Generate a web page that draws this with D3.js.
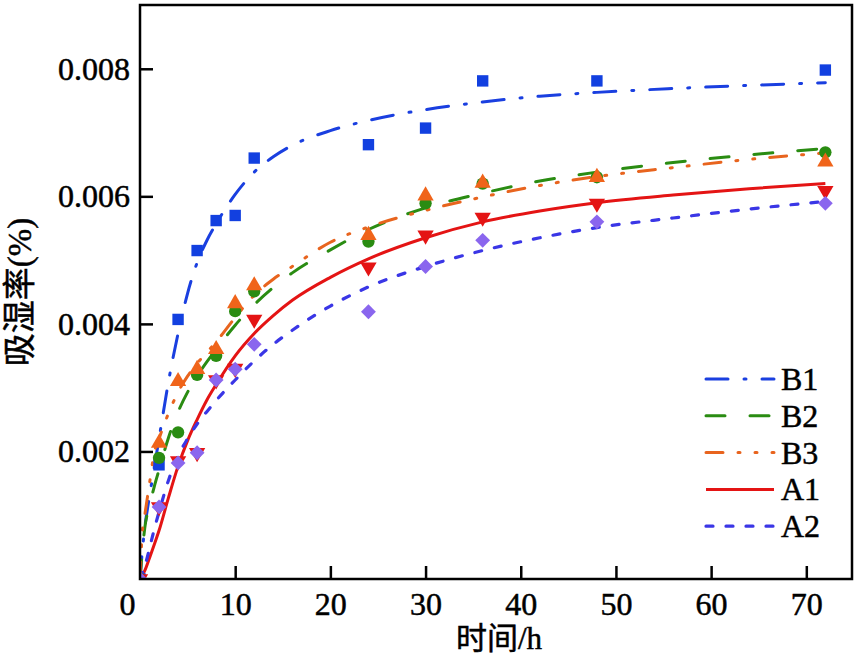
<!DOCTYPE html>
<html>
<head>
<meta charset="utf-8">
<script src="https://cdn.jsdelivr.net/npm/d3@7"></script>
<style>
  html, body { margin: 0; padding: 0; background: #fff; }
  svg { display: block; }
  .tick text { font-family: "Liberation Serif", "Times New Roman", serif; font-size: 32px; fill: #000; stroke: #000; stroke-width: 0.5px; }
  .lbl { fill: #000; stroke: #000; stroke-width: 0.5px; }
</style>
</head>
<body>
<svg id="chart" width="856" height="656"></svg>
<script>
// ---------- data ----------
const times = [0, 2, 4, 6, 8, 10, 12, 24, 30, 36, 48, 72];
const B1 = [0, 0.00179, 0.00407, 0.00515, 0.00562, 0.00570, 0.00660, 0.00681, 0.00707, 0.00781, 0.00781, 0.00798];
const B2 = [0, 0.00190, 0.00230, 0.00320, 0.00350, 0.00420, 0.00451, 0.00529, 0.00589, 0.00620, 0.00630, 0.00669];
const B3 = [0, 0.00213, 0.00310, 0.00329, 0.00360, 0.00432, 0.00460, 0.00539, 0.00601, 0.00621, 0.00630, 0.00654];
const A1 = [0, 0.00113, 0.00185, 0.00198, 0.00312, 0.00330, 0.00407, 0.00489, 0.00539, 0.00567, 0.00589, 0.00609];
const A2 = [0, 0.00113, 0.00182, 0.00198, 0.00312, 0.00329, 0.00368, 0.00419, 0.00490, 0.00531, 0.00560, 0.00589];

// fitted curves
const fitT = [0, 0.25, 0.5, 1, 1.5, 2, 3, 4, 5, 6, 7, 8, 10, 12, 14, 16, 20, 24, 30, 36, 42, 48, 56, 64, 72];
const fitB1 = [0, 0.00045, 0.0008, 0.0013, 0.00175, 0.0022, 0.0031, 0.00385, 0.00448, 0.00496, 0.0053, 0.00557, 0.00603, 0.00638, 0.00662, 0.0068, 0.00703, 0.00719, 0.00736, 0.00748, 0.00757, 0.00763, 0.00769, 0.00774, 0.00778];
const fitB2 = [0, 0.00045, 0.0008, 0.00115, 0.00145, 0.00171, 0.00222, 0.00262, 0.00293, 0.00318, 0.0034, 0.0036, 0.00398, 0.0043, 0.00457, 0.0048, 0.00516, 0.00548, 0.00582, 0.00605, 0.00624, 0.00638, 0.00653, 0.00665, 0.00675];
const fitB3 = [0, 0.00075, 0.001, 0.0015, 0.00198, 0.0022, 0.0026, 0.00293, 0.00318, 0.00338, 0.00355, 0.00372, 0.0041, 0.00445, 0.0047, 0.0049, 0.00528, 0.00552, 0.00578, 0.00599, 0.00617, 0.00631, 0.00645, 0.00658, 0.00668];
const fitA1 = [0, 0.00006, 0.00013, 0.00033, 0.00054, 0.00076, 0.00128, 0.00177, 0.00217, 0.0025, 0.0028, 0.00305, 0.0035, 0.00385, 0.00413, 0.00437, 0.00473, 0.00502, 0.00535, 0.0056, 0.00577, 0.0059, 0.00602, 0.00612, 0.0062];
const fitA2 = [0, 0.0001, 0.0002, 0.00048, 0.00078, 0.00105, 0.00155, 0.00193, 0.0022, 0.00243, 0.00262, 0.0028, 0.00312, 0.00342, 0.00368, 0.0039, 0.00428, 0.00458, 0.0049, 0.00515, 0.00535, 0.00551, 0.00566, 0.0058, 0.00592];

const seriesNames = ["B1", "B2", "B3", "A1", "A2"];
const xTicks = [0, 10, 20, 30, 40, 50, 60, 70];
const yTicks = [0.002, 0.004, 0.006, 0.008];
const xTitle = "时间/h";
const yTitle = "吸湿率(%)";

// ---------- marker shapes ----------
const downTri = {
  draw(ctx, size) {
    const s = Math.sqrt(size / (Math.sqrt(3) / 4));
    const h = s * Math.sqrt(3) / 2;
    ctx.moveTo(-s / 2, -h / 3);
    ctx.lineTo(s / 2, -h / 3);
    ctx.lineTo(0, 2 * h / 3);
    ctx.closePath();
  }
};
const squareDiamond = {
  draw(ctx, size) {
    const r = Math.sqrt(size / 2);
    ctx.moveTo(0, -r);
    ctx.lineTo(r, 0);
    ctx.lineTo(0, r);
    ctx.lineTo(-r, 0);
    ctx.closePath();
  }
};

// ---------- styles ----------
const styles = {
  B1: { line: "#1a3fe0", marker: "#1240e0", dash: "22,16,2,16", shape: d3.symbolSquare, size: 130, width: 3 },
  B2: { line: "#2a8c12", marker: "#2a8c12", dash: "19,25", shape: d3.symbolCircle, size: 120, width: 3 },
  B3: { line: "#e8641e", marker: "#f0641a", dash: "17,15,2,15,2,15", shape: d3.symbolTriangle, size: 115, width: 3 },
  A1: { line: "#e41414", marker: "#e41414", dash: null, shape: downTri, size: 115, width: 3 },
  A2: { line: "#3a36e6", marker: "#8a66ee", dash: "7,13", shape: squareDiamond, size: 110, width: 3.2 }
};

const pointData = { B1, B2, B3, A1, A2 };
const fitData = { B1: fitB1, B2: fitB2, B3: fitB3, A1: fitA1, A2: fitA2 };

// ---------- layout ----------
const pLeft = 140, pRight = 852, pTop = 5, pBottom = 579;
const svg = d3.select("#chart");
const x = d3.scaleLinear().domain([0, 74.8]).range([pLeft, pRight]);
const y = d3.scaleLinear().domain([0, 0.009]).range([pBottom, pTop]);

svg.append("defs").append("clipPath").attr("id", "clip")
  .append("rect").attr("x", pLeft).attr("y", pTop).attr("width", pRight - pLeft).attr("height", pBottom - pTop);

const plot = svg.append("g").attr("clip-path", "url(#clip)");

const line = d3.line().x(d => x(d[0])).y(d => y(d[1])).curve(d3.curveMonotoneX);

// fitted lines
seriesNames.forEach(name => {
  const st = styles[name];
  plot.append("path")
    .datum(fitT.map((t, i) => [t, fitData[name][i]]))
    .attr("d", line)
    .attr("fill", "none")
    .attr("stroke", st.line)
    .attr("stroke-width", st.width)
    .attr("stroke-linecap", st.dash ? "round" : "butt")
    .attr("stroke-dasharray", st.dash);
});

// markers
seriesNames.forEach(name => {
  const st = styles[name];
  const sym = d3.symbol().type(st.shape).size(st.size);
  plot.append("g").selectAll("path")
    .data(times.map((t, i) => [t, pointData[name][i]]))
    .join("path")
    .attr("transform", d => `translate(${x(d[0])},${y(d[1])})`)
    .attr("d", sym)
    .attr("fill", st.marker);
});

// axes
const xAxis = d3.axisBottom(x).tickValues(xTicks).tickSize(-13).tickPadding(13).tickFormat(d3.format("d"));
const gx = svg.append("g").attr("transform", `translate(0,${pBottom})`).call(xAxis);
gx.select(".domain").remove();
gx.selectAll(".tick line").attr("stroke", "#000").attr("stroke-width", 2.5);
gx.selectAll(".tick").filter(d => d === 0).select("line").remove();
gx.selectAll(".tick").filter(d => d === 0).select("text").attr("x", -13);

const yAxis = d3.axisLeft(y).tickValues(yTicks).tickSize(-13).tickPadding(10).tickFormat(d3.format(".3f"));
const gy = svg.append("g").attr("transform", `translate(${pLeft},0)`).call(yAxis);
gy.select(".domain").remove();
gy.selectAll(".tick line").attr("stroke", "#000").attr("stroke-width", 2.5);

// frame
svg.append("rect").attr("x", pLeft).attr("y", pTop).attr("width", pRight - pLeft).attr("height", pBottom - pTop)
  .attr("fill", "none").attr("stroke", "#000").attr("stroke-width", 2.5);

// titles
svg.append("text").attr("class", "lbl").attr("x", 499).attr("y", 649).attr("text-anchor", "middle")
  .style("font-family", "'Liberation Serif', 'Noto Sans CJK SC', serif").style("font-size", "31px")
  .text(xTitle);
svg.append("text").attr("class", "lbl").attr("transform", "translate(31,292) rotate(-90)").attr("text-anchor", "middle")
  .style("font-family", "'Liberation Serif', 'Noto Sans CJK SC', serif").style("font-size", "33px")
  .text(yTitle);

// legend
const lg = svg.append("g");
seriesNames.forEach((name, i) => {
  const st = styles[name];
  const ly = 379 + i * 36.8;
  lg.append("line").attr("x1", 706).attr("x2", 774).attr("y1", ly).attr("y2", ly)
    .attr("stroke", st.line).attr("stroke-width", st.width)
    .attr("stroke-linecap", st.dash ? "round" : "butt")
    .attr("stroke-dasharray", st.dash);
  lg.append("text").attr("class", "lbl").attr("x", 781).attr("y", ly + 11)
    .style("font-family", "'Liberation Serif', 'Times New Roman', serif").style("font-size", "32px")
    .text(name);
});
</script>
</body>
</html>
